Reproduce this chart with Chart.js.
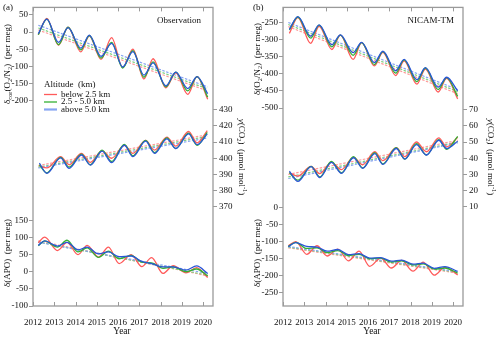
<!DOCTYPE html>
<html>
<head>
<meta charset="utf-8">
<script src="https://cdn.jsdelivr.net/npm/chart.js@4.4.1/dist/chart.umd.min.js"></script>
<style>
    html, body { margin: 0; padding: 0; background: #fff; }
    #wrap { display: flex; width: 500px; height: 338px; }
    canvas { display: block; }
</style>
</head>
<body>
<div id="wrap">
    <canvas id="panelA" width="250" height="338"></canvas>
    <canvas id="panelB" width="250" height="338"></canvas>
</div>
<script>
// ---- data ----
const yearTicks = [2012, 2013, 2014, 2015, 2016, 2017, 2018, 2019, 2020];
const trendYears = [2012.25, 2020.22];
const seriesNames = ['below 2.5 km', '2.5 - 5.0 km', 'above 5.0 km'];

// (a) Observation
const tO2a = [2012.25, 2012.65, 2013.2, 2013.65, 2014.25, 2014.65, 2015.2, 2015.7, 2016.22, 2016.7, 2017.22, 2017.65, 2018.25, 2018.72, 2019.28, 2019.72, 2020.22];
const o2aLow = [-8, 40, -38, 14, -58, -11, -80, -16, -104, -50, -137, -78, -163, -119, -182, -130, -196];
const o2aMid = [-8, 38, -37, 14, -52, -10, -76, -30, -105, -54, -132, -87, -160, -117, -172, -130, -190];
const o2aHigh = [-5, 38, -30, 13, -47, -9, -71, -33, -102, -57, -126, -90, -157, -117, -165, -130, -180];
const o2aTrendLow = [6, -172];
const o2aTrendMid = [12, -166];
const o2aTrendHigh = [20, -160];

const tCo2a = [2012.3, 2012.65, 2013.3, 2013.7, 2014.28, 2014.7, 2015.25, 2015.7, 2016.3, 2016.7, 2017.3, 2017.72, 2018.3, 2018.72, 2019.32, 2019.72, 2020.2];
const co2aLow = [395.5, 394, 401, 396, 403, 397.5, 404.5, 400, 408, 403, 411, 405, 413, 407.5, 416.5, 409.5, 417];
const co2aMid = [396, 391, 400.5, 394.5, 402.5, 396, 405, 398, 408.5, 401.5, 411, 403.5, 412.5, 406, 415.5, 408, 416];
const co2aHigh = [397, 390.7, 400.2, 393.8, 402, 395.8, 404.4, 397.3, 408, 401, 410.5, 403, 412, 406, 415, 408.4, 415];
const co2aTrendLow = [395.5, 414.5];
const co2aTrendMid = [394.5, 413.5];
const co2aTrendHigh = [394, 412.5];

const tApoa = [2012.25, 2012.55, 2013.15, 2013.6, 2014.12, 2014.55, 2015.08, 2015.55, 2016.05, 2016.62, 2017.12, 2017.58, 2018.12, 2018.6, 2019.2, 2019.7, 2020.22];
const apoaLow = [85, 101, 62, 86, 50, 77, 43, 72, 24, 50, 15, 41, -5, 18, -3, 12, -17];
const apoaMid = [76, 90, 72, 92, 58, 70, 42, 60, 38, 48, 28, 26, 10, 14, 0, 8, -12];
const apoaHigh = [77, 90, 75, 86, 64, 72, 52, 58, 44, 46, 30, 24, 14, 14, 5, 17, -5];
const apoaTrendLow = [90, -12];
const apoaTrendMid = [87, -10];
const apoaTrendHigh = [86, -5];

// (b) NICAM-TM
const tO2b = [2012.3, 2012.7, 2013.3, 2013.7, 2014.3, 2014.7, 2015.3, 2015.7, 2016.3, 2016.7, 2017.3, 2017.7, 2018.3, 2018.7, 2019.3, 2019.7, 2020.22];
const o2bLow = [-282, -236, -311, -261, -329, -287, -358, -309, -377, -337, -405, -362, -430, -386, -453, -413, -473];
const o2bMid = [-272, -234, -296, -258, -321, -287, -346, -309, -373, -335, -398, -359, -423, -383, -446, -411, -466];
const o2bHigh = [-270, -233, -290, -257, -315, -286, -338, -308, -367, -334, -391, -358, -417, -382, -439, -410, -450];
const o2bTrendLow = [-262, -458];
const o2bTrendMid = [-256, -452];
const o2bTrendHigh = [-250, -446];

const tCo2b = [2012.3, 2012.7, 2013.32, 2013.73, 2014.28, 2014.75, 2015.32, 2015.75, 2016.32, 2016.7, 2017.33, 2017.73, 2018.28, 2018.75, 2019.33, 2019.7, 2020.22];
const co2bLow = [31, 29, 35, 30.5, 37.5, 33, 40.5, 36, 44, 38.5, 46.5, 41, 50, 44, 52.5, 47, 53];
const co2bMid = [31, 26.5, 35, 28.5, 38, 31, 41, 34, 43.5, 36.5, 46.5, 39.5, 49, 42, 51.5, 45.5, 53.5];
const co2bHigh = [32, 25.7, 34.8, 28.1, 37.4, 30.7, 40.3, 33.8, 42.9, 36.2, 46, 39.5, 48.4, 42, 51.1, 46, 50.5];
const co2bTrendLow = [30, 51];
const co2bTrendMid = [28.5, 50];
const co2bTrendHigh = [27.5, 49.5];

const tApob = [2012.25, 2012.6, 2013.12, 2013.6, 2014.08, 2014.58, 2015.08, 2015.58, 2016.08, 2016.6, 2017.1, 2017.58, 2018.12, 2018.6, 2019.12, 2019.62, 2020.22];
const apobLow = [-112, -100, -137, -112, -142, -122, -156, -128, -172, -148, -177, -155, -186, -160, -198, -175, -197];
const apobMid = [-114, -102, -120, -118, -132, -126, -141, -137, -150, -148, -160, -156, -168, -165, -180, -177, -192];
const apobHigh = [-115, -103, -114, -116, -128, -123, -138, -135, -148, -147, -157, -154, -166, -163, -178, -173, -187];
const apobTrendLow = [-118, -192];
const apobTrendMid = [-116, -190];
const apobTrendHigh = [-114, -188];

// tick labels
const o2TicksA = [50, 0, -50, -100, -150, -200];
const apoTicksA = [150, 100, 50, 0, -50, -100];
const co2TicksA = [370, 380, 390, 400, 410, 420, 430];
const o2TicksB = [-250, -300, -350, -400, -450, -500];
const apoTicksB = [0, -50, -100, -150, -200, -250];
const co2TicksB = [10, 20, 30, 40, 50, 60, 70];

// ---- styling ----
const FONT = '"Times New Roman", "Liberation Serif", Times, serif';
const TEXT = '#111';
const AXIS = '#9a9a9a';
const lineColors = ['#ff5a5a', '#33b033', '#2a55d6'];
const dashColors = ['#ff9a9a', '#7fd07f', '#86a4f2'];

Chart.defaults.font.family = FONT;
Chart.defaults.color = TEXT;

function pts(t, v) {
    return t.map((x, i) => ({ x: x, y: v[i] }));
}

function buildDatasets(block, axisId) {
    const out = [];
    const vals = [block.low, block.mid, block.high];
    vals.forEach((v, i) => {
        out.push({
            label: seriesNames[i],
            data: pts(block.t, v),
            yAxisID: axisId,
            borderColor: lineColors[i],
            borderWidth: 1.3,
            pointRadius: 0,
            cubicInterpolationMode: 'monotone',
            order: 3 - i
        });
    });
    block.trends.forEach((v, i) => {
        out.push({
            label: seriesNames[i] + ' trend',
            data: pts(trendYears, v),
            yAxisID: axisId,
            borderColor: dashColors[i],
            borderWidth: 1.2,
            borderDash: [2.5, 1.5],
            pointRadius: 0,
            order: 6 - i
        });
    });
    return out;
}

function drawRich(ctx, segs, x, y, angle, size) {
    ctx.save();
    ctx.translate(x, y);
    ctx.rotate(angle);
    const fontFor = s => (s.it ? 'italic ' : '') + ((s.sub || s.sup) ? size * 0.7 : size) + 'px ' + FONT;
    let total = 0;
    segs.forEach(s => { ctx.font = fontFor(s); total += ctx.measureText(s.t).width; });
    let cx = -total / 2;
    ctx.textBaseline = 'middle';
    ctx.textAlign = 'left';
    ctx.fillStyle = TEXT;
    segs.forEach(s => {
        ctx.font = fontFor(s);
        const dy = s.sub ? size * 0.3 : (s.sup ? -size * 0.35 : 0);
        ctx.fillText(s.t, cx, dy);
        cx += ctx.measureText(s.t).width;
    });
    ctx.restore();
}

const co2Title = [{ t: 'y', it: true }, { t: '(CO' }, { t: '2', sub: true }, { t: ')  (μmol mol' }, { t: '-1', sup: true }, { t: ')' }];
const apoTitle = [{ t: 'δ(APO)  (per meg)' }];

const decorPlugin = {
    id: 'decor',
    afterDraw(chart, args, opts) {
        const ctx = chart.ctx;
        const a = chart.chartArea;
        ctx.save();
        // frame
        ctx.strokeStyle = AXIS;
        ctx.lineWidth = 1.3;
        ctx.strokeRect(a.left, a.top, a.right - a.left, a.bottom - a.top);
        // inner year ticks, top and bottom
        const xs = chart.scales.x;
        ctx.lineWidth = 1;
        yearTicks.forEach(yr => {
            const px = Math.round(xs.getPixelForValue(yr)) + 0.5;
            ctx.beginPath();
            ctx.moveTo(px, a.top); ctx.lineTo(px, a.top + 4);
            ctx.moveTo(px, a.bottom); ctx.lineTo(px, a.bottom - 4);
            ctx.stroke();
        });
        // panel letter and note
        ctx.fillStyle = TEXT;
        ctx.textBaseline = 'middle';
        ctx.font = '9px ' + FONT;
        ctx.textAlign = 'left';
        ctx.fillText(opts.letter, 3, 8);
        ctx.textAlign = 'right';
        ctx.fillText(opts.note, opts.noteRight, 21);
        // titles
        ctx.textAlign = 'center';
        ctx.font = '9.5px ' + FONT;
        ctx.fillText('Year', (a.left + a.right) / 2 - 1, 331);
        drawRich(ctx, opts.o2Title, 8, opts.o2TitleY, -Math.PI / 2, 9);
        drawRich(ctx, apoTitle, 8, 253, -Math.PI / 2, 9);
        drawRich(ctx, co2Title, opts.co2TitleX, 157, Math.PI / 2, 9);
        // legend
        if (opts.legend) {
            ctx.font = '9px ' + FONT;
            ctx.textAlign = 'left';
            ctx.fillStyle = TEXT;
            ctx.fillText('Altitude  (km)', 44, 85);
            const rows = [94.5, 102, 109.5];
            rows.forEach((ry, i) => {
                ctx.strokeStyle = i === 2 ? dashColors[2] : lineColors[i];
                ctx.lineWidth = i === 2 ? 2.2 : 1.3;
                ctx.beginPath();
                ctx.moveTo(44, ry); ctx.lineTo(57, ry);
                ctx.stroke();
                ctx.fillText(seriesNames[i], 61, ry);
            });
        }
        ctx.restore();
    }
};

function makePanel(cfg) {
    const datasets = []
        .concat(buildDatasets(cfg.o2, 'y'))
        .concat(buildDatasets(cfg.co2, 'yCo2'))
        .concat(buildDatasets(cfg.apo, 'yApo'));

    const leftTicks = cfg.o2Ticks.concat(cfg.apoTicks.map(v => v - cfg.apoOffset));
    const tickFont = { family: FONT, size: 9 };

    new Chart(document.getElementById(cfg.id), {
        type: 'line',
        data: { datasets: datasets },
        plugins: [decorPlugin],
        options: {
            responsive: false,
            animation: false,
            devicePixelRatio: 1,
            layout: { padding: { top: 4, left: 0, right: 0, bottom: 0 } },
            plugins: {
                legend: { display: false },
                tooltip: { enabled: false },
                decor: {
                    letter: cfg.letter,
                    note: cfg.note,
                    noteRight: cfg.noteRight,
                    legend: cfg.legend,
                    o2Title: cfg.o2Title,
                    o2TitleY: cfg.o2TitleY,
                    co2TitleX: cfg.co2TitleX
                }
            },
            scales: {
                x: {
                    type: 'linear',
                    min: 2012,
                    max: 2020.47,
                    afterBuildTicks: ax => { ax.ticks = yearTicks.map(v => ({ value: v })); },
                    afterFit: ax => { ax.height = 32; },
                    ticks: { callback: v => String(v), padding: 3, maxRotation: 0, autoSkip: false, font: tickFont, color: TEXT },
                    grid: { display: false },
                    border: { display: false }
                },
                y: {
                    type: 'linear',
                    position: 'left',
                    min: cfg.o2Range[0],
                    max: cfg.o2Range[1],
                    afterBuildTicks: ax => { ax.ticks = leftTicks.map(v => ({ value: v })); },
                    afterFit: ax => { ax.width = 33; },
                    ticks: {
                        autoSkip: false,
                        padding: 1,
                        font: tickFont,
                        color: TEXT,
                        callback: v => String(cfg.o2Ticks.includes(v) ? v : v + cfg.apoOffset)
                    },
                    grid: { drawOnChartArea: false, tickLength: 4, color: AXIS },
                    border: { display: false }
                },
                yCo2: {
                    type: 'linear',
                    position: 'right',
                    min: cfg.co2Range[0],
                    max: cfg.co2Range[1],
                    afterBuildTicks: ax => { ax.ticks = cfg.co2Ticks.map(v => ({ value: v })); },
                    afterFit: ax => { ax.width = 37; },
                    ticks: { autoSkip: false, padding: 2, font: tickFont, color: TEXT, callback: v => String(v) },
                    grid: { drawOnChartArea: false, tickLength: 4, color: AXIS },
                    border: { display: false }
                },
                yApo: {
                    type: 'linear',
                    display: false,
                    min: cfg.apoRange[0],
                    max: cfg.apoRange[1]
                }
            }
        }
    });
}

document.addEventListener('DOMContentLoaded', () => {
    makePanel({
        id: 'panelA',
        letter: '(a)',
        note: 'Observation',
        noteRight: 201,
        legend: true,
        o2Title: [{ t: 'δ' }, { t: 'cor', sub: true }, { t: '(O' }, { t: '2', sub: true }, { t: '/N' }, { t: '2', sub: true }, { t: ')  (per meg)' }],
        o2TitleY: 64,
        co2TitleX: 241,
        o2: { t: tO2a, low: o2aLow, mid: o2aMid, high: o2aHigh, trends: [o2aTrendLow, o2aTrendMid, o2aTrendHigh] },
        co2: { t: tCo2a, low: co2aLow, mid: co2aMid, high: co2aHigh, trends: [co2aTrendLow, co2aTrendMid, co2aTrendHigh] },
        apo: { t: tApoa, low: apoaLow, mid: apoaMid, high: apoaHigh, trends: [apoaTrendLow, apoaTrendMid, apoaTrendHigh] },
        o2Range: [-800, 72],
        apoRange: [-100, 772],
        apoOffset: 700,
        co2Range: [308.9, 493],
        o2Ticks: o2TicksA,
        apoTicks: apoTicksA,
        co2Ticks: co2TicksA
    });
    makePanel({
        id: 'panelB',
        letter: '(b)',
        note: 'NICAM-TM',
        noteRight: 204,
        legend: false,
        o2Title: [{ t: 'δ(O' }, { t: '2', sub: true }, { t: '/N' }, { t: '2', sub: true }, { t: ')  (per meg)' }],
        o2TitleY: 59,
        co2TitleX: 240,
        o2: { t: tO2b, low: o2bLow, mid: o2bMid, high: o2bHigh, trends: [o2bTrendLow, o2bTrendMid, o2bTrendHigh] },
        co2: { t: tCo2b, low: co2bLow, mid: co2bMid, high: co2bHigh, trends: [co2bTrendLow, co2bTrendMid, co2bTrendHigh] },
        apo: { t: tApob, low: apobLow, mid: apobMid, high: apobHigh, trends: [apobTrendLow, apobTrendMid, apobTrendHigh] },
        o2Range: [-1078, -206],
        apoRange: [-288, 584],
        apoOffset: 790,
        co2Range: [-51.1, 133],
        o2Ticks: o2TicksB,
        apoTicks: apoTicksB,
        co2Ticks: co2TicksB
    });
});
</script>
</body>
</html>
